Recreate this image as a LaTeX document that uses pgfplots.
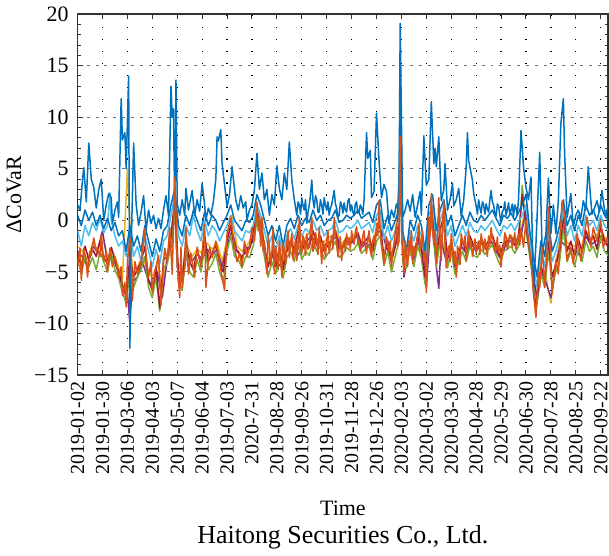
\documentclass[border=0pt]{standalone}
\usepackage{fontspec}
\setmainfont{Liberation Serif}
\usepackage{pgfplots}
\pgfplotsset{compat=1.18}
\definecolor{mblue}{RGB}{0,114,189}
\definecolor{morange}{RGB}{217,83,25}
\definecolor{myellow}{RGB}{237,177,32}
\definecolor{mpurple}{RGB}{126,47,142}
\definecolor{mgreen}{RGB}{119,172,48}
\definecolor{mlblue}{RGB}{77,190,238}
\definecolor{mdred}{RGB}{162,20,47}
\begin{document}
\begin{tikzpicture}
\begin{axis}[
  scale only axis, width=266pt, height=181pt,
  xmin=0, xmax=426, ymin=-15, ymax=20,
  xtick={0,20,...,420},
  xticklabels={2019-01-02,2019-01-30,2019-03-06,2019-04-03,2019-05-07,2019-06-04,2019-07-03,2020-7-31,2019-08-28,2019-09-26,2019-10-31,2019-11-28,2019-12-26,2020-02-03,2020-03-02,2020-03-30,2020-04-28,2020-5-29,2020-06-30,2020-07-28,2020-08-25,2020-09-22},
  ytick={-15,-10,-5,0,5,10,15,20},
  yticklabels={−15,−10,−5,0,5,10,15,20},
  minor y tick num=4,
  xtick pos=both, ytick pos=both,
  tick align=inside, major tick length=2.5pt, minor tick length=1.5pt,
  every tick/.style={black!80, line width=0.5pt},
  xticklabel style={rotate=90, anchor=east, inner sep=0pt, font=\fontsize{10}{12}\selectfont},
  xticklabel shift=3pt,
  yticklabel style={font=\fontsize{11}{13}\selectfont, xshift=-1pt},
  xmajorgrids, ymajorgrids,
  x grid style={black, line width=0.6pt, dash pattern=on 0.6pt off 5.4pt},
  y grid style={black!55, line width=0.5pt, dash pattern=on 1.5pt off 3pt},
  axis line style={line width=0.8pt, black!80},
  ylabel={ΔCoVaR},
  ylabel style={font=\fontsize{11}{13}\selectfont, yshift=-0.5pt},
  xlabel={Time\\[1pt]{\fontsize{13}{15}\selectfont Haitong Securities Co., Ltd.}},
  xlabel style={align=center, font=\fontsize{11}{13}\selectfont, yshift=-9.5pt},
  every axis plot/.append style={line width=0.75pt, line join=round},
]
% yellow
\addplot[myellow] coordinates {(0,-2.5)(4,-3.0)(8,-3.8)(12,-2.2)(16,-2.8)(20,-1.5)(24,-3.5)(28,-3.0)(32,-4.2)(36,-5.8)(40,5.0)(42,-0.5)(44,-5.5)(48,-4.5)(52,-3.5)(56,-4.8)(60,-5.5)(64,-4.2)(68,-6.5)(72,-3.2)(76,-1.5)(78,2.5)(80,-4.0)(84,-5.0)(88,-2.5)(92,-3.5)(96,-2.8)(100,-3.2)(104,-2.2)(108,-2.8)(112,-2.2)(116,-4.0)(120,-1.8)(124,0.5)(128,-2.5)(132,-3.0)(136,-2.5)(140,-1.5)(144,1.5)(148,-0.5)(152,-4.0)(156,-3.0)(160,-3.5)(164,-4.0)(168,-2.5)(172,-1.8)(176,-3.0)(180,-2.2)(184,-1.5)(188,-1.0)(192,-2.0)(196,-2.4)(200,-1.8)(204,-1.5)(208,-1.0)(212,-2.4)(216,-1.6)(220,-1.8)(224,-1.0)(228,-2.2)(232,-1.8)(236,-2.4)(240,-0.8)(244,-0.5)(248,-2.2)(252,-3.4)(256,-1.5)(259,7.0)(262,-4.8)(266,-2.5)(270,-3.4)(274,-1.5)(278,-3.0)(280,-6.0)(284,1.0)(288,-4.0)(292,-1.5)(296,-3.5)(300,-2.0)(304,-4.2)(308,-2.0)(312,-2.8)(316,-1.8)(320,-2.6)(324,-1.8)(328,-2.4)(332,-1.5)(336,-2.5)(340,-3.4)(344,-1.8)(348,-1.5)(352,-2.0)(356,-1.0)(360,1.5)(364,-3.0)(366,-6.5)(368,-8.8)(372,-4.5)(376,-5.5)(380,-8.0)(384,-4.0)(388,-1.5)(392,-2.0)(396,-2.4)(400,-2.5)(404,-3.0)(408,-1.0)(412,-2.0)(416,-1.5)(420,-1.0)(424,-1.8)(426,-2.2)};
% purple
\addplot[mpurple] coordinates {(0,-3.2)(4,-3.5)(8,-4.5)(12,-2.5)(16,-3.0)(20,-1.0)(24,-4.0)(28,-3.5)(32,-4.8)(36,-6.5)(40,-7.0)(42,-10.0)(44,-6.0)(48,-5.5)(52,-4.0)(56,-5.5)(60,-6.5)(64,-5.0)(68,-7.5)(72,-3.8)(76,-2.0)(78,1.5)(80,-4.5)(84,-6.0)(88,-3.0)(92,-4.0)(96,-3.2)(100,-3.8)(104,-2.8)(108,-3.4)(112,-2.8)(116,-4.5)(120,-2.4)(124,-1.0)(128,-3.0)(132,-3.5)(136,-3.0)(140,-2.0)(144,1.0)(148,-1.0)(152,-4.5)(156,-3.5)(160,-4.0)(164,-4.6)(168,-3.0)(172,-2.2)(176,-3.5)(180,-2.8)(184,-2.0)(188,-1.5)(192,-2.4)(196,-2.8)(200,-2.2)(204,-2.0)(208,-1.5)(212,-2.8)(216,-2.0)(220,-2.2)(224,-1.5)(228,-2.6)(232,-2.2)(236,-2.8)(240,-1.2)(244,-1.0)(248,-2.6)(252,-3.8)(256,-2.0)(259,6.0)(262,-5.5)(266,-3.0)(270,-3.8)(274,-2.0)(278,-3.5)(280,-6.5)(284,0.5)(288,-4.5)(290,-6.6)(292,-2.0)(296,-4.0)(300,-2.5)(304,-4.8)(308,-2.5)(312,-3.2)(316,-2.2)(320,-3.0)(324,-2.2)(328,-2.8)(332,-2.0)(336,-3.0)(340,-3.8)(344,-2.2)(348,-2.0)(352,-2.5)(356,-1.5)(360,1.0)(364,-3.5)(368,-8.5)(372,-5.0)(376,-6.0)(380,-7.5)(384,-4.5)(388,-2.0)(392,-2.5)(396,-2.8)(400,-3.0)(404,-3.5)(408,-1.5)(412,-2.4)(416,-2.0)(420,-1.5)(424,-2.2)(426,-2.6)};
% green
\addplot[mgreen] coordinates {(0,-3.8)(3,-5.2)(6,-3.5)(9,-4.5)(12,-3.6)(15,-4.8)(18,-3.0)(21,-4.0)(24,-5.0)(27,-3.2)(30,-4.8)(33,-5.6)(36,-7.0)(39,-8.0)(42,-5.0)(45,-6.5)(48,-5.5)(51,-4.8)(54,-3.5)(57,-6.5)(60,-7.5)(63,-5.5)(66,-8.8)(69,-4.6)(72,-4.2)(75,-2.5)(78,1.0)(81,-6.0)(84,-6.8)(87,-3.0)(90,-5.0)(93,-5.5)(96,-3.8)(99,-5.0)(102,-2.5)(105,-4.8)(108,-4.2)(111,-3.2)(114,-5.0)(117,-6.0)(120,-3.0)(123,-1.5)(126,-3.5)(129,-3.8)(132,-4.6)(135,-3.5)(138,-3.6)(141,-2.5)(144,0.0)(147,-1.5)(150,-3.5)(153,-5.5)(156,-4.0)(159,-5.2)(162,-3.5)(165,-5.6)(168,-3.6)(171,-3.0)(174,-4.0)(177,-2.0)(180,-3.8)(183,-3.0)(186,-3.4)(189,-2.0)(192,-3.0)(195,-2.5)(198,-3.8)(201,-3.2)(204,-2.8)(207,-2.0)(210,-3.6)(213,-3.3)(216,-2.6)(219,-3.0)(222,-2.8)(225,-2.2)(228,-3.2)(231,-2.8)(234,-2.5)(237,-3.8)(240,-2.0)(243,-1.5)(246,-4.4)(249,-3.0)(252,-5.0)(255,-3.5)(258,-2.0)(259,5.5)(261,-4.0)(264,-4.6)(267,-2.8)(270,-4.5)(273,-2.5)(276,-3.6)(279,-6.2)(282,-1.8)(285,0.0)(288,-4.5)(291,-2.0)(294,-0.5)(297,-4.6)(300,-3.0)(303,-5.2)(306,-4.0)(309,-3.0)(312,-4.0)(315,-2.5)(318,-3.4)(321,-3.6)(324,-2.8)(327,-3.3)(330,-2.8)(333,-2.4)(336,-3.4)(339,-4.3)(342,-3.0)(345,-2.8)(348,-2.5)(351,-3.2)(354,-2.5)(357,3.4)(360,-1.0)(363,-3.5)(366,-6.0)(369,-8.0)(372,-5.2)(375,-6.5)(378,-3.0)(381,-6.2)(384,-5.0)(387,-4.0)(390,-0.5)(393,-4.0)(396,-3.0)(399,-4.5)(402,-2.8)(405,-4.0)(408,-2.0)(411,-3.0)(414,-2.5)(417,-3.6)(420,-1.5)(423,-3.0)(426,-3.4)};
% dark red
\addplot[mdred] coordinates {(0,-3.0)(3,-4.5)(6,-2.5)(9,-3.8)(12,-2.8)(15,-3.5)(18,-2.0)(21,-3.6)(24,-4.2)(27,-2.6)(30,-3.8)(33,-5.0)(36,-6.2)(39,-7.5)(42,-3.5)(45,-5.5)(48,-4.8)(51,-4.0)(54,-2.5)(57,-5.8)(60,-6.8)(63,-4.5)(66,-8.5)(69,-3.8)(72,-3.5)(75,-1.5)(78,2.0)(81,-5.0)(84,-5.8)(87,-2.0)(90,-4.0)(93,-4.8)(96,-3.0)(99,-4.2)(102,-1.5)(105,-4.0)(108,-3.2)(111,-2.4)(114,-4.2)(117,-5.0)(120,-2.0)(123,-0.5)(126,-2.8)(129,-3.0)(132,-3.8)(135,-2.6)(138,-2.8)(141,-1.5)(144,0.8)(147,-0.5)(150,-2.5)(153,-4.5)(156,-3.0)(159,-4.5)(162,-2.6)(165,-4.8)(168,-2.8)(171,-2.0)(174,-3.2)(177,-1.0)(180,-3.0)(183,-2.0)(186,-2.6)(189,-1.0)(192,-2.2)(195,-1.5)(198,-3.0)(201,-2.4)(204,-2.0)(207,-1.0)(210,-2.8)(213,-2.5)(216,-1.6)(219,-2.2)(222,-1.8)(225,-1.2)(228,-2.4)(231,-2.0)(234,-1.5)(237,-3.0)(240,-1.0)(243,-0.5)(246,-3.6)(249,-2.0)(252,-4.0)(255,-2.5)(258,-1.0)(259,6.5)(261,-3.0)(264,-3.8)(267,-1.8)(270,-3.5)(273,-1.5)(276,-2.8)(279,-5.5)(282,-0.8)(285,1.0)(288,-3.5)(291,-1.0)(294,0.5)(297,-3.8)(300,-2.0)(303,-4.5)(306,-3.2)(309,-2.0)(312,-3.2)(315,-1.5)(318,-2.6)(321,-2.8)(324,-1.8)(327,-2.5)(330,-2.0)(333,-1.4)(336,-2.6)(339,-3.5)(342,-2.2)(345,-2.0)(348,-1.6)(351,-2.4)(354,-1.5)(357,2.5)(360,-0.5)(363,-3.0)(366,-5.5)(369,-7.5)(372,-4.5)(375,-5.5)(378,-2.0)(381,-5.5)(384,-4.2)(387,-3.0)(390,0.5)(393,-3.0)(396,-2.0)(399,-3.5)(402,-1.8)(405,-3.0)(408,-1.0)(411,-2.0)(414,-1.5)(417,-2.8)(420,-0.5)(423,-2.0)(426,-2.5)};
% light blue
\addplot[mlblue] coordinates {(0,-1.0)(3,-2.5)(6,-0.5)(9,-1.5)(12,-0.2)(15,-1.0)(18,0.2)(21,-1.2)(24,-0.5)(26,2.7)(27,0.0)(30,-1.5)(33,-2.5)(36,-2.0)(39,-3.5)(42,-1.0)(45,-3.5)(48,-2.5)(51,-4.0)(54,-1.5)(57,-3.0)(60,-4.5)(63,-2.8)(66,-4.2)(69,-2.0)(72,-1.5)(75,0.5)(78,2.5)(81,-1.5)(84,-2.5)(87,-0.5)(90,-1.5)(93,0.5)(96,-1.0)(99,-2.0)(102,0.0)(105,-1.5)(108,-0.5)(111,-1.0)(114,-2.0)(117,-1.2)(120,-0.5)(123,0.5)(126,-1.0)(129,-1.5)(132,-2.0)(135,-1.0)(138,-1.2)(141,-0.5)(144,1.5)(147,0.5)(150,-1.0)(153,-2.5)(156,-1.5)(159,-3.0)(162,-1.5)(165,-3.5)(168,-1.5)(171,-0.8)(174,-1.8)(177,-0.5)(180,-1.5)(183,-0.8)(186,-1.2)(189,0.0)(192,-1.0)(195,-0.5)(198,-1.5)(201,-1.0)(204,-0.8)(207,0.0)(210,-1.2)(213,-1.0)(216,-0.5)(219,-0.8)(222,-0.5)(225,0.0)(228,-0.8)(231,-0.5)(234,-0.2)(237,-1.2)(240,0.5)(243,1.0)(246,-1.8)(249,-0.5)(252,-2.0)(255,-1.0)(258,0.0)(259,10.5)(261,-2.0)(264,-4.0)(267,-1.0)(270,-2.0)(273,-0.5)(276,-1.5)(279,-4.0)(282,0.5)(285,1.5)(288,-2.0)(291,0.0)(294,1.0)(297,-1.5)(300,-0.5)(303,-2.5)(306,-1.5)(309,-0.5)(312,-1.5)(315,-0.2)(318,-1.0)(321,-1.2)(324,-0.5)(327,-1.0)(330,-0.5)(333,0.0)(336,-0.8)(339,-1.5)(342,-0.5)(345,-0.8)(348,-0.3)(351,-1.0)(354,-0.2)(357,0.5)(360,1.5)(363,-2.0)(366,-4.5)(369,-6.5)(372,-3.0)(375,-4.5)(378,-1.0)(381,-4.0)(384,-3.0)(387,-1.5)(390,1.0)(393,-1.5)(396,-0.5)(399,-2.0)(402,-0.5)(405,-1.5)(408,0.5)(411,-0.5)(414,0.0)(417,-1.0)(420,0.5)(423,-0.5)(426,-1.0)};
% blue (lower)
\addplot[mblue] coordinates {(0,0.5)(3,-0.5)(6,1.0)(9,0.0)(12,0.8)(15,-0.5)(18,0.5)(21,-0.8)(24,0.2)(27,-1.0)(30,-0.2)(33,-1.5)(36,-1.0)(39,-3.0)(42,-0.5)(45,-2.5)(48,-1.5)(51,-3.0)(54,-0.5)(57,-2.0)(60,-3.5)(63,-1.8)(66,-3.0)(69,-1.0)(72,-0.5)(75,1.5)(78,3.0)(81,-0.5)(84,-1.5)(87,0.5)(90,-0.5)(93,1.0)(96,0.0)(99,-1.0)(102,0.8)(105,-0.5)(108,0.5)(111,0.0)(114,-1.0)(117,-0.2)(120,0.5)(123,1.5)(126,0.0)(129,-0.5)(132,-1.0)(135,0.0)(138,-0.2)(141,0.5)(144,2.5)(147,1.5)(150,0.0)(153,-1.5)(156,-0.5)(159,-2.0)(162,-0.5)(165,-2.5)(168,-0.5)(171,0.2)(174,-0.8)(177,0.5)(180,-0.5)(183,0.2)(186,-0.2)(189,1.0)(192,0.0)(195,0.5)(198,-0.5)(201,0.0)(204,0.2)(207,1.0)(210,-0.2)(213,0.0)(216,0.5)(219,0.2)(222,0.5)(225,1.0)(228,0.2)(231,0.5)(234,0.8)(237,-0.2)(240,1.5)(243,2.0)(246,-0.8)(249,0.5)(252,-1.0)(255,0.0)(258,1.0)(259,14.0)(261,-1.0)(264,-3.0)(267,0.0)(270,-1.0)(273,0.5)(276,-0.5)(279,-3.0)(282,1.5)(285,2.5)(288,-1.0)(291,1.0)(294,2.0)(297,-0.5)(300,0.5)(303,-1.5)(306,-0.5)(309,0.5)(312,-0.5)(315,0.8)(318,0.0)(321,-0.2)(324,0.5)(327,0.0)(330,0.5)(333,1.0)(336,0.2)(339,-0.5)(342,0.5)(345,0.2)(348,0.7)(351,0.0)(354,0.8)(357,1.5)(360,2.5)(363,-1.0)(366,-3.5)(369,-5.5)(372,-2.0)(375,-3.5)(378,0.0)(381,-3.0)(384,-2.0)(387,-0.5)(390,2.0)(393,-0.5)(396,0.5)(399,-1.0)(402,0.5)(405,-0.5)(408,1.5)(411,0.5)(414,1.0)(417,0.0)(420,1.5)(423,0.5)(426,0.0)};
% blue (upper, spiky)
\addplot[mblue] coordinates {(0,1.5)(2,1.0)(4,4.0)(5,5.1)(7,1.8)(9,7.5)(11,4.0)(13,3.2)(15,1.2)(17,3.0)(19,4.0)(21,0.0)(23,1.5)(25,2.6)(27,2.2)(28,-0.3)(30,1.0)(32,1.8)(33,0.3)(35,11.8)(36,7.8)(38,8.5)(39,5.0)(41,14.0)(42,-12.4)(43,-3.0)(45,7.5)(47,1.6)(49,-0.5)(51,0.8)(53,2.4)(55,-1.0)(57,1.0)(59,-0.3)(61,0.5)(63,-0.8)(65,0.2)(67,-0.8)(69,1.0)(71,2.4)(73,0.5)(75,13.0)(76,10.0)(77,10.8)(78,1.0)(79,13.6)(80,1.6)(82,0.5)(84,2.0)(86,0.5)(87,3.1)(89,1.0)(92,2.9)(94,0.5)(96,2.0)(98,0.9)(100,3.6)(102,1.5)(103,0.0)(105,1.2)(107,0.5)(109,1.8)(111,4.0)(112,8.1)(113,7.7)(115,8.8)(116,5.5)(118,3.5)(120,1.3)(122,2.5)(124,5.2)(126,3.0)(127,2.0)(129,1.0)(131,2.4)(133,1.2)(135,1.8)(136,0.0)(138,1.0)(140,1.5)(142,3.0)(144,6.5)(146,3.0)(148,4.6)(150,2.0)(152,3.0)(154,0.5)(156,2.5)(158,1.5)(160,5.3)(162,3.1)(164,2.0)(166,4.6)(168,3.0)(170,7.6)(172,3.9)(174,2.0)(176,0.5)(177,1.8)(178,1.5)(179,0.6)(180,2.2)(181,1.4)(182,1.0)(183,2.0)(184,-0.3)(185,0.8)(186,1.5)(187,2.5)(188,3.9)(189,2.0)(190,1.2)(191,2.4)(192,2.0)(193,0.8)(194,0.8)(195,2.0)(196,1.5)(197,0.6)(198,2.2)(199,1.5)(200,1.0)(201,1.8)(202,0.5)(203,1.2)(204,1.5)(205,2.2)(206,2.9)(207,1.6)(208,1.2)(209,0.3)(210,0.5)(211,1.8)(212,1.5)(213,0.7)(214,1.7)(215,1.0)(216,0.8)(217,1.9)(218,2.1)(219,0.9)(220,1.5)(221,0.8)(222,0.5)(223,1.6)(224,1.8)(225,0.7)(226,0.8)(227,1.5)(228,1.2)(229,0.6)(230,2.0)(232,8.5)(233,6.0)(235,6.8)(236,2.2)(238,2.8)(240,10.4)(242,5.8)(244,2.2)(246,3.5)(248,2.8)(250,-0.3)(252,1.0)(254,0.3)(256,1.6)(258,0.8)(259,19.1)(261,0.3)(263,1.0)(265,2.0)(267,0.9)(269,2.5)(271,0.3)(273,1.5)(275,2.8)(276,0.5)(278,8.2)(280,3.4)(282,4.0)(284,11.5)(286,5.5)(287,7.0)(288,5.2)(290,8.1)(292,1.9)(294,3.0)(295,5.5)(297,1.0)(299,2.0)(301,3.6)(302,1.4)(304,2.0)(306,3.1)(308,0.4)(310,2.0)(312,5.2)(313,8.5)(314,5.8)(317,3.9)(318,2.6)(320,1.4)(321,0.6)(322,2.0)(323,1.2)(324,0.7)(325,1.8)(326,1.5)(327,0.6)(328,1.6)(329,1.1)(330,0.8)(331,2.0)(332,2.9)(333,1.8)(334,1.5)(335,0.7)(336,0.4)(337,1.6)(338,1.4)(339,0.5)(340,-0.2)(341,0.9)(342,1.0)(343,1.8)(344,0.5)(345,1.0)(346,1.7)(347,0.6)(348,1.0)(349,1.6)(350,0.4)(351,1.5)(352,1.2)(353,0.5)(354,2.0)(356,8.7)(358,5.2)(360,3.2)(362,2.0)(364,4.2)(366,-6.8)(368,-2.3)(371,6.6)(373,-3.2)(376,-1.3)(378,4.1)(380,-1.3)(382,1.5)(384,-1.3)(386,2.0)(388,9.4)(390,11.8)(391,6.5)(393,0.3)(396,2.6)(398,-0.6)(400,0.5)(402,1.0)(404,0.2)(406,1.9)(408,1.0)(410,5.2)(412,2.0)(413,0.6)(415,1.2)(417,1.9)(419,0.8)(421,2.9)(423,1.0)(424,0.3)(426,1.5)};
% orange (top)
\addplot[morange] coordinates {(0,-4.5)(2,-2.7)(3,-5.8)(5,-2.7)(7,-4.0)(8,-5.5)(10,-3.0)(11,-3.4)(13,-1.7)(15,-3.0)(16,-2.7)(18,-3.5)(19,-1.4)(21,-4.0)(23,-3.0)(24,-5.0)(26,-2.7)(28,-4.5)(30,-3.5)(31,-4.0)(33,-5.5)(35,-4.5)(36,-7.3)(38,-6.0)(39,-8.4)(40,-4.0)(42,-1.7)(43,-2.3)(44,-7.8)(46,-4.0)(48,-5.2)(50,-4.5)(51,-4.0)(54,-0.8)(55,-3.4)(57,-5.5)(59,-4.0)(60,-7.0)(62,-5.0)(63,-4.5)(65,-3.4)(67,-8.2)(69,-4.0)(70,-2.7)(72,-4.0)(74,-0.7)(76,-5.2)(78,4.2)(79,0.9)(80,-4.0)(82,-7.5)(83,-2.6)(84,-6.5)(86,-4.5)(87,-0.7)(89,-5.2)(91,-3.2)(94,-5.5)(96,-2.6)(99,-4.5)(102,-0.4)(103,-6.5)(106,-2.6)(108,-3.6)(111,-2.0)(114,-4.0)(116,-5.5)(118,-6.8)(120,-1.3)(123,0.3)(126,-2.6)(128,-4.0)(130,-3.2)(132,-4.5)(134,-2.0)(136,-3.5)(138,-2.6)(140,-0.7)(142,-2.0)(144,1.8)(145,-1.0)(146,0.3)(147,-2.5)(148,0.3)(149,-3.0)(150,-2.0)(151,-4.0)(152,-5.2)(153,-1.5)(154,-2.6)(155,-4.5)(156,-3.2)(157,-0.7)(158,-5.2)(159,-2.5)(160,-3.6)(161,-4.8)(162,-2.0)(163,-3.5)(164,-5.5)(165,-2.2)(166,-3.0)(167,-4.2)(168,-2.3)(169,-1.0)(170,-3.6)(171,-2.2)(172,-1.3)(173,-3.8)(174,-3.0)(175,-1.8)(176,-3.9)(177,-2.5)(178,0.3)(179,-2.0)(180,-3.2)(181,-1.5)(182,-2.0)(183,-3.4)(184,-1.3)(185,-2.8)(186,-2.5)(187,-1.0)(188,0.3)(189,-3.0)(190,-2.6)(191,-1.2)(192,-1.8)(193,-3.3)(194,-0.7)(195,-2.4)(196,-4.2)(197,-2.0)(198,-2.5)(199,-3.5)(200,-2.0)(201,-1.0)(202,-3.2)(203,-2.2)(204,-1.5)(205,-2.8)(206,0.3)(207,-1.5)(208,-2.0)(209,-3.5)(210,-2.8)(211,-1.6)(212,-3.9)(213,-2.5)(214,-2.0)(215,-3.0)(216,-1.3)(217,-2.4)(218,-1.7)(219,-2.8)(220,-1.0)(221,-1.8)(222,-2.3)(223,-1.2)(224,-0.6)(225,-2.2)(226,-1.9)(227,-3.0)(228,-2.6)(229,-1.5)(230,-1.0)(231,-2.5)(232,-3.2)(233,-1.8)(234,-1.0)(235,-2.8)(236,-3.5)(237,-2.0)(238,-1.5)(239,-2.5)(240,-0.3)(241,-1.5)(242,1.9)(243,-1.0)(244,-2.3)(245,-3.0)(246,-4.2)(247,-2.8)(248,-1.6)(249,-2.2)(250,-3.0)(251,-2.0)(252,-4.5)(253,-3.0)(254,-2.3)(255,-1.2)(256,-0.3)(257,-2.5)(258,-2.0)(259,8.1)(260,-1.0)(261,-2.9)(262,-5.1)(263,-2.0)(264,-3.5)(265,-4.5)(266,-2.0)(267,-3.0)(268,-1.0)(269,-4.2)(270,-2.5)(271,-3.5)(272,-2.3)(273,-1.5)(274,-0.3)(275,-3.0)(276,-2.3)(277,-1.0)(278,-4.0)(279,-3.0)(280,-7.0)(281,-2.5)(282,0.3)(283,-1.5)(284,2.6)(285,-1.0)(286,-2.3)(287,-1.0)(288,-4.2)(289,-2.0)(290,2.2)(291,-1.5)(292,-3.9)(293,-0.5)(294,1.9)(295,-2.0)(296,-4.6)(297,-3.0)(298,-2.5)(299,-4.0)(300,-1.3)(301,-2.6)(302,-4.2)(303,-3.0)(304,-5.5)(305,-2.5)(306,-3.0)(307,-4.3)(308,-1.3)(309,-2.0)(310,-2.5)(311,-1.5)(312,-3.9)(313,-2.2)(314,-1.0)(315,-2.6)(316,-2.0)(317,-3.5)(318,-2.8)(319,-1.8)(320,-3.2)(321,-2.4)(322,-2.0)(323,-3.3)(324,-1.3)(325,-2.2)(326,-3.0)(327,-1.8)(328,-2.6)(329,-3.5)(330,-1.5)(331,-2.5)(332,-0.7)(333,-1.8)(334,-2.0)(335,-3.0)(336,-2.8)(337,-1.6)(338,-3.2)(339,-2.4)(340,-4.5)(341,-3.0)(342,-2.5)(343,-1.2)(344,-1.6)(345,-2.8)(346,-2.3)(347,-1.4)(348,-1.5)(349,-2.6)(350,-2.0)(351,-1.2)(352,-2.8)(353,-2.0)(354,-1.3)(355,-2.4)(356,-0.7)(358,-2.6)(360,0.0)(362,-2.0)(364,-4.0)(366,-7.1)(368,-9.4)(370,-5.0)(371,-6.5)(373,-2.6)(375,-6.5)(377,-3.0)(378,1.3)(380,-4.5)(381,-7.1)(384,-3.9)(386,-5.2)(389,1.9)(391,0.6)(393,-3.9)(396,-2.6)(398,-4.2)(401,-1.3)(404,-3.9)(406,-2.0)(409,0.3)(412,-2.6)(414,-0.7)(417,-2.0)(420,0.0)(422,-2.6)(425,-1.7)(426,-2.2)};
\end{axis}
\end{tikzpicture}
\end{document}
